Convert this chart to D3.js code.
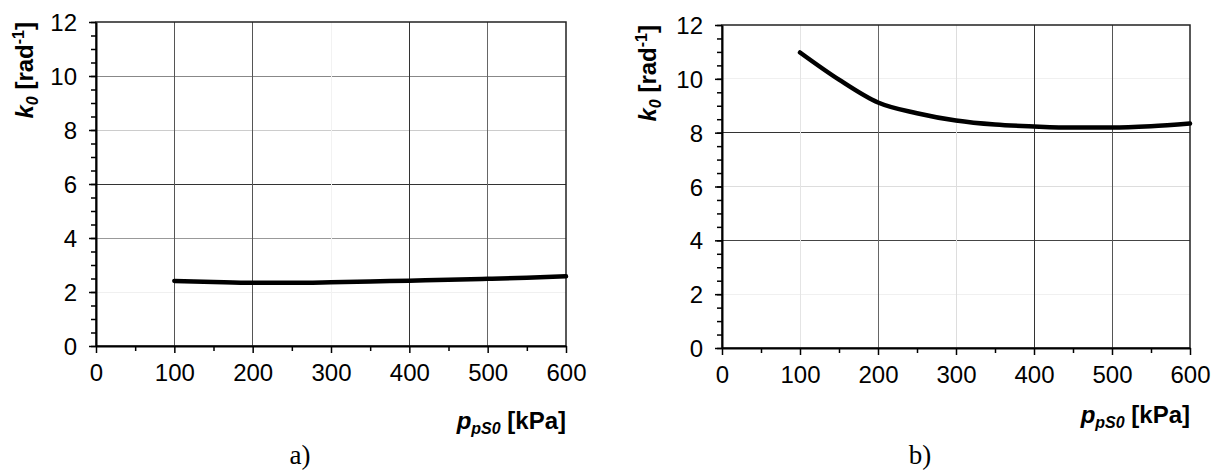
<!DOCTYPE html>
<html lang="en">
<head>
    <meta charset="UTF-8">
    <title>k0 vs ppS0</title>
    <script src="https://d3js.org/d3.v7.min.js"></script>
    <style>
        body { margin: 0; background: #fff; }
        svg { display: block; }
        text { font-family: Arial, "Liberation Sans", sans-serif; fill: #000; }
        .tick text { font-size: 24px; }
        .title { font-size: 24px; font-weight: bold; }
        .caption { font-family: "Times New Roman", "Liberation Serif", serif; font-size: 27px; }
    </style>
</head>
<body>
<svg width="1218" height="470"></svg>
<script>
    // pressure values (kPa), shared by both panels
    const pressure = [100, 150, 200, 250, 300, 350, 400, 450, 500, 550, 600];
    // panel a) and b) curves, k0 [rad^-1]
    const k0a = [2.41, 2.37, 2.34, 2.34, 2.36, 2.39, 2.42, 2.45, 2.49, 2.53, 2.58];
    const k0b = [10.98, 9.97, 9.12, 8.72, 8.45, 8.30, 8.23, 8.19, 8.19, 8.24, 8.34];

    const xTicks = [0, 100, 200, 300, 400, 500, 600];
    const yTicks = [0, 2, 4, 6, 8, 10, 12];

    const svg = d3.select("svg");

    function drawPanel(p) {
        const x = d3.scaleLinear().domain([0, 600]).range([p.left, p.right]);
        const y = d3.scaleLinear().domain([0, 12]).range([p.bottom, p.top]);
        const g = svg.append("g");

        // grid lines (shades differ as in the scanned figure)
        g.selectAll(".hgrid").data(yTicks.slice(1, -1)).enter().append("line")
            .attr("x1", p.left).attr("x2", p.right)
            .attr("y1", d => y(d)).attr("y2", d => y(d))
            .attr("stroke", (d, i) => p.hShade[i]).attr("stroke-width", 1)
            .attr("shape-rendering", "crispEdges");
        g.selectAll(".vgrid").data(xTicks.slice(1, -1)).enter().append("line")
            .attr("y1", p.top).attr("y2", p.bottom)
            .attr("x1", d => x(d)).attr("x2", d => x(d))
            .attr("stroke", (d, i) => p.vShade[i]).attr("stroke-width", 1)
            .attr("shape-rendering", "crispEdges");

        // frame
        g.append("rect")
            .attr("x", p.left).attr("y", p.top)
            .attr("width", p.right - p.left).attr("height", p.bottom - p.top)
            .attr("fill", "none").attr("stroke", "#222").attr("stroke-width", 1.5);

        // minor ticks
        g.append("g").attr("transform", `translate(${p.left},0)`)
            .call(d3.axisLeft(y).tickValues(d3.range(0, 12.01, 0.5)).tickSize(5).tickFormat(""))
            .call(a => a.select(".domain").remove())
            .selectAll("line").attr("stroke", "#000").attr("stroke-width", 1.5);
        g.append("g").attr("transform", `translate(0,${p.bottom})`)
            .call(d3.axisBottom(x).tickValues(d3.range(50, 600, 100)).tickSize(5).tickFormat(""))
            .call(a => a.select(".domain").remove())
            .selectAll("line").attr("stroke", "#000").attr("stroke-width", 1.5);

        // major axes
        const ya = g.append("g").attr("transform", `translate(${p.left},0)`)
            .call(d3.axisLeft(y).tickValues(yTicks).tickSize(7).tickPadding(12).tickSizeOuter(0));
        const xa = g.append("g").attr("transform", `translate(0,${p.bottom})`)
            .call(d3.axisBottom(x).tickValues(xTicks).tickSize(7).tickPadding(11).tickSizeOuter(0));
        [ya, xa].forEach(a => {
            a.attr("font-family", null).attr("font-size", null);
            a.select(".domain").attr("stroke", "#000").attr("stroke-width", 2);
            a.selectAll(".tick line").attr("stroke", "#000").attr("stroke-width", 1.5);
            a.selectAll(".tick text").attr("fill", "#000");
        });
        ya.selectAll(".tick text").attr("dy", "0.36em");

        // data curve
        const line = d3.line().curve(d3.curveMonotoneX)
            .x((d, i) => x(pressure[i])).y(d => y(d));
        g.append("path").datum(p.values)
            .attr("d", line).attr("fill", "none")
            .attr("stroke", "#000").attr("stroke-width", 4.5)
            .attr("stroke-linecap", "round");

        // x axis title
        const xt = g.append("text").attr("class", "title")
            .attr("x", p.right).attr("y", p.xTitleY).attr("text-anchor", "end");
        xt.append("tspan").attr("font-style", "italic").text("p");
        xt.append("tspan").attr("font-style", "italic").attr("font-size", "16px").attr("dy", 5).text("pS0");
        xt.append("tspan").attr("dy", -5).text(" [kPa]");

        // y axis title
        const yt = g.append("text").attr("class", "title")
            .attr("transform", `translate(${p.yTitleX},${p.top}) rotate(-90)`)
            .attr("text-anchor", "end");
        yt.append("tspan").attr("font-style", "italic").text("k");
        yt.append("tspan").attr("font-style", "italic").attr("font-size", "16px").attr("dy", 5).text("0");
        yt.append("tspan").attr("dy", -5).text(" [rad");
        yt.append("tspan").attr("font-size", "16px").attr("dy", -9).text("-1");
        yt.append("tspan").attr("dy", 9).text("]");

        // caption
        g.append("text").attr("class", "caption")
            .attr("x", p.captionX).attr("y", 464).attr("text-anchor", "middle")
            .text(p.caption);
    }

    drawPanel({
        left: 96, right: 566, top: 22, bottom: 346,
        values: k0a, caption: "a)", captionX: 300,
        xTitleY: 429, yTitleX: 33,
        hShade: ["#f0f0f0", "#999", "#333", "#ccc", "#888"],
        vShade: ["#555", "#555", "#f2f2f2", "#333", "#666"]
    });
    drawPanel({
        left: 722, right: 1190, top: 25, bottom: 348,
        values: k0b, caption: "b)", captionX: 920,
        xTitleY: 423, yTitleX: 656,
        hShade: ["#f0f0f0", "#444", "#ddd", "#333", "#f0f0f0"],
        vShade: ["#e4e4e4", "#666", "#ddd", "#333", "#555"]
    });
</script>
</body>
</html>
